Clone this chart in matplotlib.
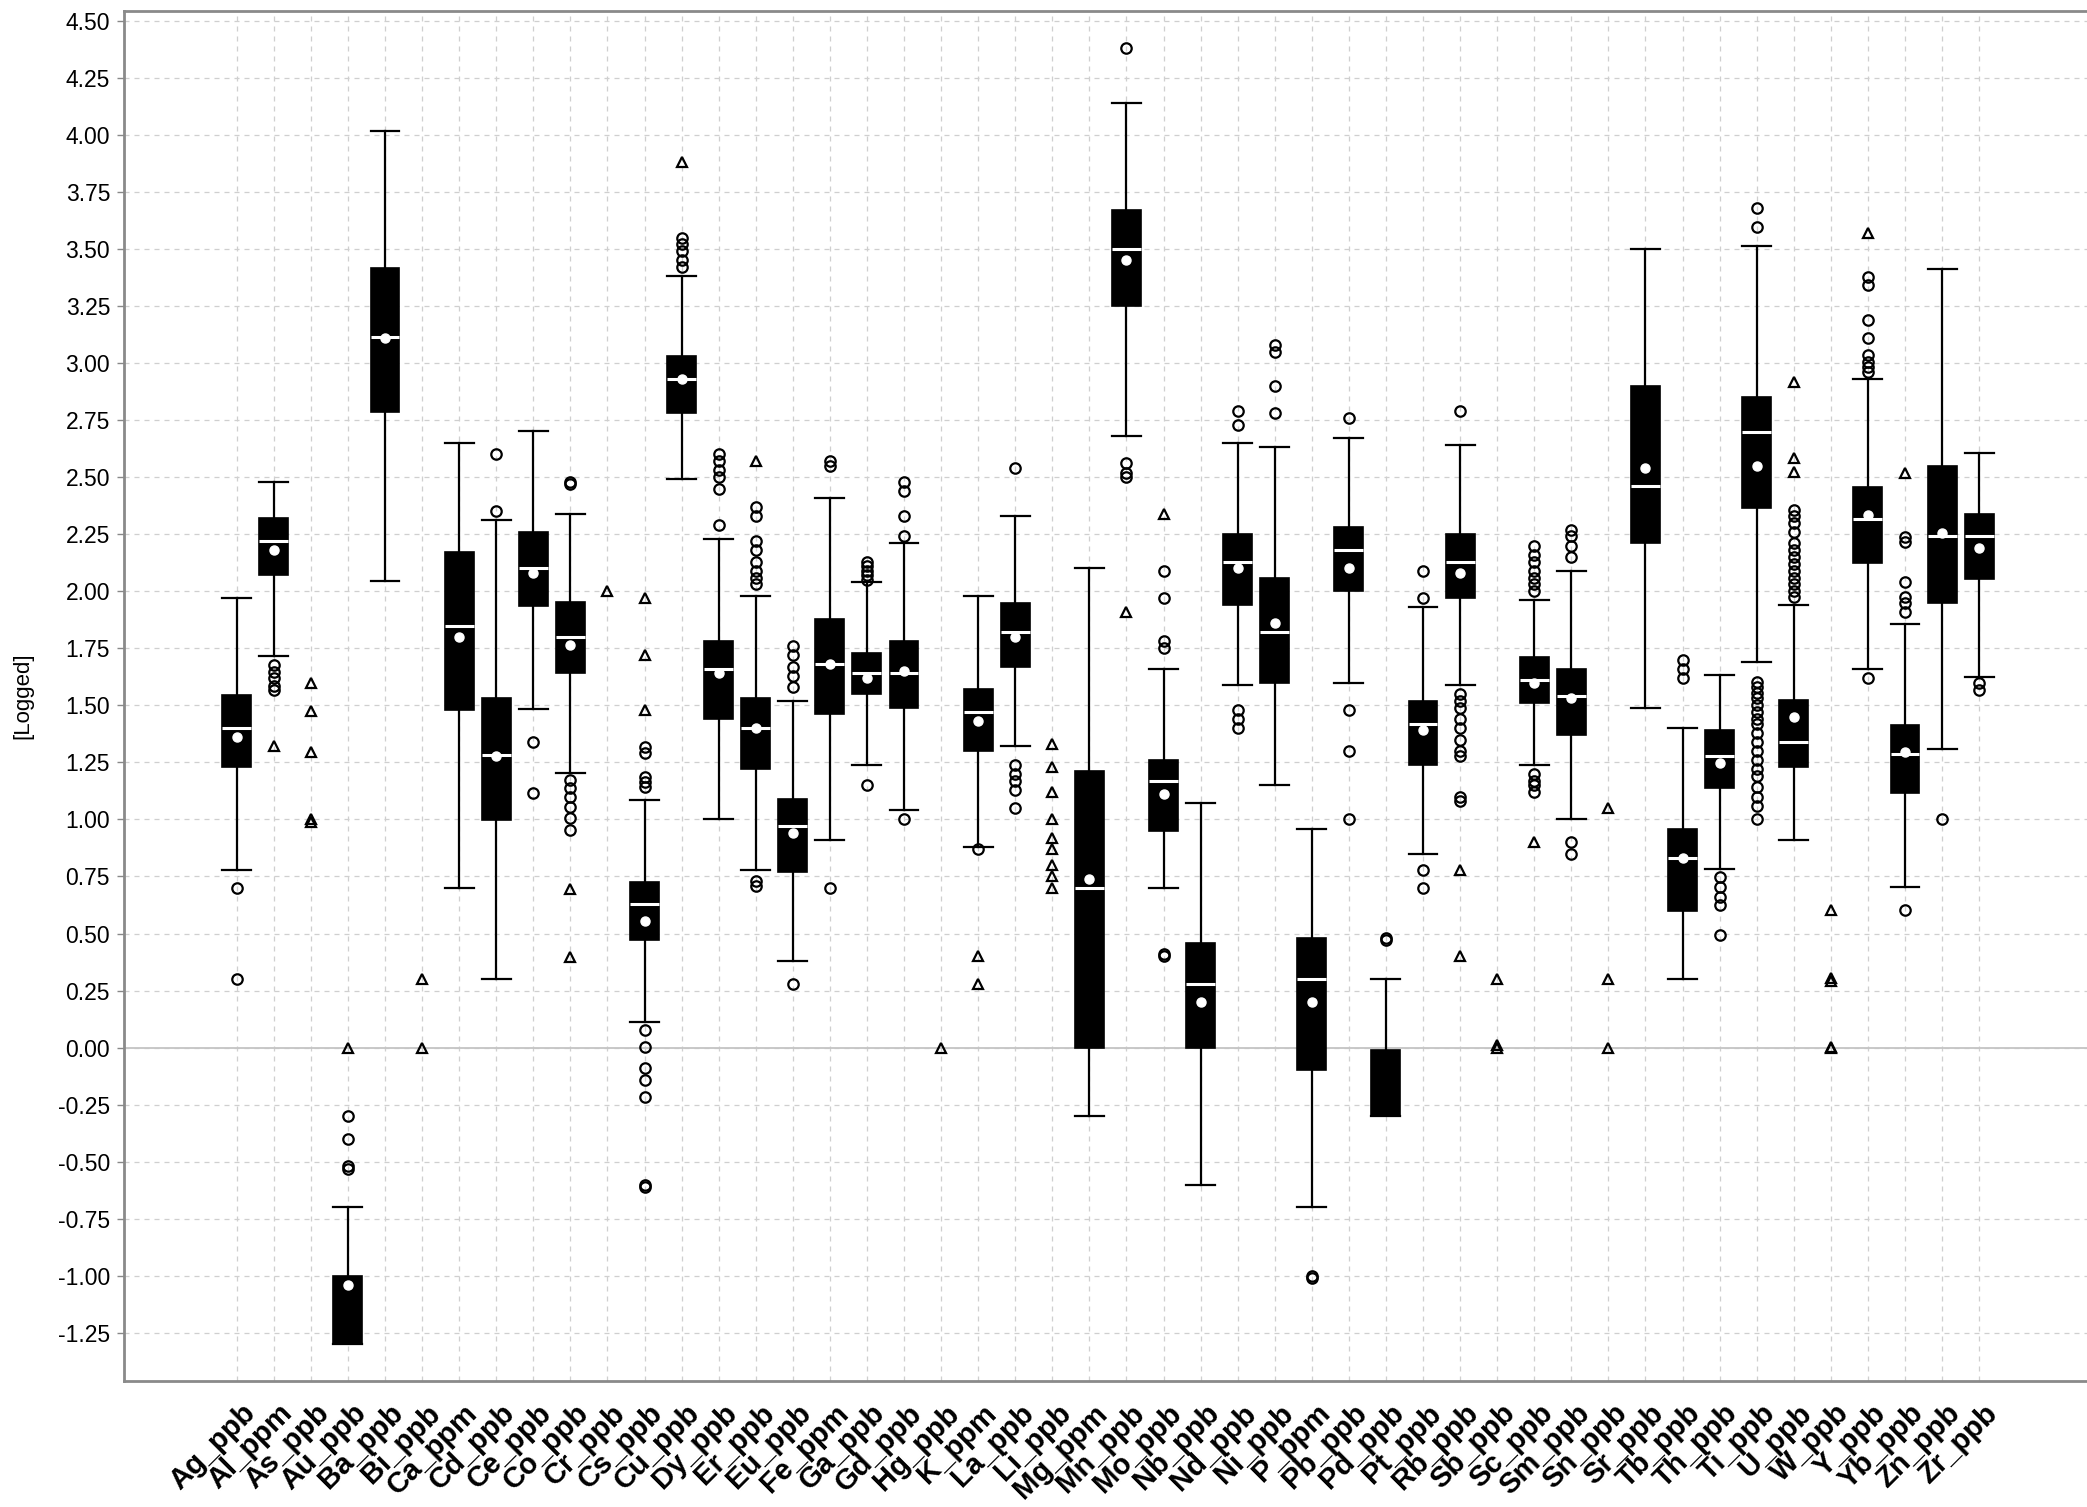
import numpy as np
import matplotlib
matplotlib.use("Agg")
import matplotlib.pyplot as plt
from matplotlib.transforms import ScaledTranslation

nan = np.nan

ELEMENTS = [
    "Ag_ppb", "Al_ppm", "As_ppb", "Au_ppb", "Ba_ppb", "Bi_ppb", "Ca_ppm", "Cd_ppb",
    "Ce_ppb", "Co_ppb", "Cr_ppb", "Cs_ppb", "Cu_ppb", "Dy_ppb", "Er_ppb", "Eu_ppb",
    "Fe_ppm", "Ga_ppb", "Gd_ppb", "Hg_ppb", "K_ppm", "La_ppb", "Li_ppb", "Mg_ppm",
    "Mn_ppb", "Mo_ppb", "Nb_ppb", "Nd_ppb", "Ni_ppb", "P_ppm", "Pb_ppb", "Pd_ppb",
    "Pt_ppb", "Rb_ppb", "Sb_ppb", "Sc_ppb", "Sm_ppb", "Sn_ppb", "Sr_ppb", "Tb_ppb",
    "Th_ppb", "Ti_ppb", "U_ppb", "W_ppb", "Y_ppb", "Yb_ppb", "Zn_ppb", "Zr_ppb",
]

# box statistics (log10 values), nan where the element has no box
Q1 = [1.23, 2.07, nan, -1.30, 2.787, nan, 1.479, 0.997,
      1.935, 1.643, nan, 0.472, 2.78, 1.44, 1.22, 0.77,
      1.46, 1.55, 1.49, nan, 1.30, 1.67, nan, 0.00,
      3.25, 0.95, 0.00, 1.94, 1.60, -0.10, 2.00, -0.30,
      1.24, 1.97, nan, 1.51, 1.37, nan, 2.21, 0.60,
      1.139, 2.366, 1.231, nan, 2.122, 1.117, 1.947, 2.052]
MEDIAN = [1.40, 2.22, nan, nan, 3.113, nan, 1.847, 1.282,
          2.10, 1.798, nan, 0.629, 2.93, 1.66, 1.40, 0.97,
          1.68, 1.64, 1.64, nan, 1.47, 1.82, nan, 0.70,
          3.50, 1.17, 0.28, 2.13, 1.82, 0.30, 2.18, nan,
          1.42, 2.13, nan, 1.61, 1.54, nan, 2.46, 0.83,
          1.278, 2.696, 1.34, nan, 2.315, 1.287, 2.242, 2.243]
Q3 = [1.545, 2.32, nan, -1.00, 3.415, nan, 2.17, 1.531,
      2.26, 1.954, nan, 0.727, 3.03, 1.78, 1.53, 1.09,
      1.88, 1.73, 1.78, nan, 1.57, 1.95, nan, 1.21,
      3.67, 1.26, 0.46, 2.25, 2.06, 0.48, 2.28, -0.01,
      1.52, 2.25, nan, 1.71, 1.66, nan, 2.90, 0.96,
      1.392, 2.852, 1.523, nan, 2.455, 1.414, 2.549, 2.338]
WHISKER_LO = [0.78, 1.716, nan, -1.30, 2.045, nan, 0.70, 0.30,
              1.483, 1.202, nan, 0.113, 2.49, 1.00, 0.78, 0.38,
              0.91, 1.24, 1.04, nan, 0.88, 1.32, nan, -0.30,
              2.68, 0.70, -0.60, 1.59, 1.15, -0.70, 1.60, -0.30,
              0.85, 1.59, nan, 1.24, 1.00, nan, 1.49, 0.30,
              0.781, 1.691, 0.91, nan, 1.658, 0.702, 1.307, 1.623]
WHISKER_HI = [1.97, 2.48, nan, -0.70, 4.017, nan, 2.65, 2.31,
              2.70, 2.34, nan, 1.085, 3.38, 2.23, 1.98, 1.52,
              2.41, 2.04, 2.21, nan, 1.98, 2.33, nan, 2.10,
              4.14, 1.66, 1.07, 2.65, 2.63, 0.96, 2.67, 0.30,
              1.93, 2.64, nan, 1.96, 2.09, nan, 3.50, 1.40,
              1.633, 3.514, 1.94, nan, 2.931, 1.856, 3.412, 2.604]
MEAN = [1.36, 2.18, nan, -1.04, 3.11, nan, 1.798, 1.28,
        2.08, 1.764, nan, 0.556, 2.93, 1.64, 1.40, 0.94,
        1.68, 1.62, 1.65, nan, 1.43, 1.80, nan, 0.74,
        3.45, 1.11, 0.20, 2.10, 1.86, 0.20, 2.10, nan,
        1.39, 2.08, nan, 1.60, 1.53, nan, 2.54, 0.83,
        1.246, 2.55, 1.447, nan, 2.334, 1.297, 2.254, 2.188]

# outliers drawn as open circles
OUTLIERS = {
    "Ag_ppb": [0.70, 0.30],
    "Al_ppm": [1.677, 1.648, 1.618, 1.585, 1.567],
    "Au_ppb": [-0.30, -0.40, -0.52, -0.53],
    "Cd_ppb": [2.35, 2.60],
    "Ce_ppb": [1.34, 1.117],
    "Co_ppb": [2.47, 2.48, 1.173, 1.136, 1.10, 1.056, 1.005, 0.954],
    "Cs_ppb": [1.143, 1.165, 1.186, 1.289, 1.318, 0.077, 0.004, -0.09, -0.142, -0.215, -0.60, -0.61],
    "Cu_ppb": [3.42, 3.45, 3.49, 3.52, 3.55],
    "Dy_ppb": [2.29, 2.45, 2.50, 2.53, 2.57, 2.60],
    "Er_ppb": [2.03, 2.06, 2.09, 2.13, 2.18, 2.22, 2.33, 2.37, 0.73, 0.71],
    "Eu_ppb": [1.58, 1.63, 1.67, 1.72, 1.76, 0.28],
    "Fe_ppm": [2.55, 2.57, 0.70],
    "Ga_ppb": [2.05, 2.07, 2.09, 2.11, 2.13, 1.15],
    "Gd_ppb": [2.24, 2.33, 2.44, 2.48, 1.00],
    "K_ppm": [0.87],
    "La_ppb": [2.54, 1.24, 1.20, 1.17, 1.13, 1.05],
    "Mn_ppb": [4.38, 2.56, 2.52, 2.50],
    "Mo_ppb": [1.75, 1.78, 1.97, 2.09, 0.40, 0.41],
    "Nd_ppb": [2.73, 2.79, 1.48, 1.44, 1.40],
    "Ni_ppb": [2.78, 2.90, 3.05, 3.08],
    "P_ppm": [-1.00, -1.01],
    "Pb_ppb": [2.76, 1.48, 1.30, 1.00],
    "Pd_ppb": [0.48, 0.47],
    "Pt_ppb": [1.97, 2.09, 0.78, 0.70],
    "Rb_ppb": [2.79, 1.55, 1.52, 1.49, 1.44, 1.40, 1.35, 1.30, 1.28, 1.10, 1.08],
    "Sc_ppb": [2.00, 2.03, 2.06, 2.09, 2.13, 2.16, 2.20, 1.20, 1.17, 1.15, 1.12],
    "Sm_ppb": [2.15, 2.20, 2.24, 2.27, 0.90, 0.85],
    "Tb_ppb": [1.62, 1.66, 1.70],
    "Th_ppb": [0.749, 0.705, 0.661, 0.625, 0.493],
    "Ti_ppb": [3.678, 3.595, 1.603, 1.58, 1.555, 1.53, 1.50, 1.47, 1.44, 1.42, 1.38,
               1.34, 1.30, 1.26, 1.22, 1.19, 1.14, 1.10, 1.06, 1.00],
    "U_ppb": [1.976, 2.00, 2.03, 2.06, 2.09, 2.12, 2.15, 2.18, 2.21, 2.26, 2.30, 2.33, 2.356],
    "Y_ppb": [2.962, 2.984, 3.006, 3.035, 3.108, 3.188, 3.342, 3.378, 1.618],
    "Yb_ppb": [1.91, 1.947, 1.976, 2.042, 2.217, 2.239, 0.603],
    "Zn_ppb": [1.002],
    "Zr_ppb": [1.596, 1.567],
}

# extreme values drawn as open triangles
EXTREMES = {
    "Al_ppm": [1.323],
    "As_ppb": [1.596, 1.475, 1.297, 1.00, 0.99],
    "Au_ppb": [0.00],
    "Bi_ppb": [0.30, 0.00],
    "Co_ppb": [0.696, 0.398],
    "Cr_ppb": [2.00],
    "Cs_ppb": [1.479, 1.72, 1.97],
    "Cu_ppb": [3.88],
    "Er_ppb": [2.57],
    "Hg_ppb": [0.00],
    "K_ppm": [0.40, 0.28],
    "Li_ppb": [1.33, 1.23, 1.12, 1.00, 0.92, 0.87, 0.80, 0.75, 0.70],
    "Mn_ppb": [1.91],
    "Mo_ppb": [2.34],
    "Rb_ppb": [0.78, 0.40],
    "Sb_ppb": [0.30, 0.00, 0.01],
    "Sc_ppb": [0.90],
    "Sn_ppb": [1.05, 0.30, 0.00],
    "U_ppb": [2.918, 2.582, 2.524],
    "W_ppb": [0.603, 0.304, 0.29, 0.004, 0.0],
    "Y_ppb": [3.568],
    "Yb_ppb": [2.519],
}

Y_TICKS = np.arange(-1.25, 4.51, 0.25)

W, H = 2087, 1507


def _box_stats():
    stats, positions = [], []
    for idx, name in enumerate(ELEMENTS):
        if np.isnan(Q1[idx]):
            continue
        stats.append({
            "label": name, "q1": Q1[idx], "med": MEDIAN[idx], "q3": Q3[idx],
            "whislo": WHISKER_LO[idx], "whishi": WHISKER_HI[idx],
            "mean": MEAN[idx], "fliers": [],
        })
        positions.append(idx)
    return stats, positions


def _scatter_points(ax, points, marker):
    for name, values in points.items():
        xpos = ELEMENTS.index(name)
        ax.plot([xpos] * len(values), values, linestyle="none", marker=marker,
                markersize=7.5, markerfacecolor="none", markeredgecolor="black",
                markeredgewidth=1.6, zorder=4)


plt.rcParams["font.family"] = ["Liberation Sans", "DejaVu Sans"]

fig = plt.figure(figsize=(W / 100, H / 100), dpi=100)
ax = fig.add_axes([124 / W, 1 - 1381 / H, 1 - 124 / W, (1381 - 10.7) / H])

stats, positions = _box_stats()
ax.bxp(
    stats, positions=positions, widths=0.78, capwidths=0.78,
    patch_artist=True, showmeans=True, showfliers=False, manage_ticks=False,
    boxprops=dict(facecolor="black", edgecolor="black", linewidth=1.2),
    medianprops=dict(color="white", linewidth=2.2),
    meanprops=dict(marker="o", markerfacecolor="white", markeredgecolor="white", markersize=6.5),
    whiskerprops=dict(color="black", linewidth=1.6),
    capprops=dict(color="black", linewidth=1.6),
    zorder=3,
)
_scatter_points(ax, OUTLIERS, "o")
_scatter_points(ax, EXTREMES, "^")

ax.set_xlim(-3.04, 49.91)
ax.set_ylim(-1.461, 4.544)
ax.set_axisbelow(True)
ax.grid(True, color="#cfcfcf", linestyle=(0, (4, 4)), linewidth=0.9)
ax.axhline(0, color="#c4c4c4", linewidth=1.3, zorder=1)

ax.set_yticks(Y_TICKS)
ax.set_yticklabels([f"{v:.2f}" for v in Y_TICKS], fontsize=16.5)
ax.tick_params(axis="y", length=5, width=1, color="#888888", pad=5)

ax.set_xticks(range(len(ELEMENTS)))
ax.set_xticklabels(ELEMENTS, rotation=45, ha="right", va="top",
                   rotation_mode="anchor", fontsize=21, fontweight="bold")
ax.tick_params(axis="x", length=0, pad=13)
shift = ScaledTranslation(0.04, 0, fig.dpi_scale_trans)
for lab in ax.get_xticklabels():
    lab.set_transform(lab.get_transform() + shift)

for side in ("left", "top", "bottom"):
    ax.spines[side].set_color("#8a8a8a")
    ax.spines[side].set_linewidth(2)
ax.spines["right"].set_visible(False)

ax.set_ylabel("[Logged]", fontsize=16)
ax.yaxis.set_label_coords(-0.046, 0.5)

fig.savefig("out.png", dpi=100)
